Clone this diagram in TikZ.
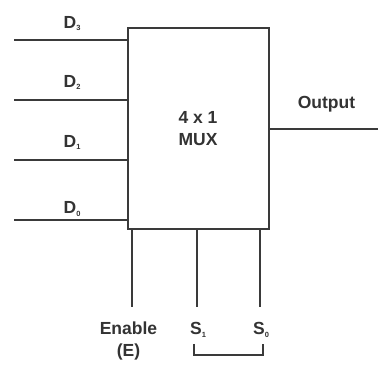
\documentclass[tikz,border=0pt]{standalone}
\usepackage{fontspec}
\setmainfont{Liberation Sans}
\definecolor{ink}{HTML}{3A3A3A}
\definecolor{txt}{HTML}{333333}
\newcommand{\sbs}[1]{\raisebox{-2.5pt}{\fontsize{7.5}{7.5}\selectfont #1}}
\begin{document}
\begin{tikzpicture}[x=1pt,y=-1pt,
  wire/.style={draw=ink,line width=2pt},
  lbl/.style={text=txt,font=\fontsize{17.5}{22}\selectfont\bfseries,inner sep=0pt},
  muxbox/.style={draw=ink,line width=2pt,minimum width=141pt,minimum height=201pt,inner sep=0pt}]
\useasboundingbox (0,0) rectangle (378,366);
\node[muxbox] (mux) at (198.5,128.5) {};
\node[lbl,align=center] (title) at (198,129) {4 x 1\\MUX};
% inputs
\coordinate (in3) at (14,40);
\coordinate (in2) at (14,100);
\coordinate (in1) at (14,160);
\coordinate (in0) at (14,220);
\draw[wire] (in3) -- (in3 -| mux.west);
\draw[wire] (in2) -- (in2 -| mux.west);
\draw[wire] (in1) -- (in1 -| mux.west);
\draw[wire] (in0) -- (in0 -| mux.west);
\node[lbl,anchor=base west] (l3) at (63.5,28.5) {D\sbs{3}};
\node[lbl,anchor=base west] (l2) at (63.5,87.5) {D\sbs{2}};
\node[lbl,anchor=base west] (l1) at (63.5,147.5) {D\sbs{1}};
\node[lbl,anchor=base west] (l0) at (63.5,214) {D\sbs{0}};
% output
\coordinate (out) at (378,129);
\draw[wire] (out -| mux.east) -- (out);
\node[lbl,anchor=base] (lout) at (326.5,108.5) {Output};
% bottom
\coordinate (en) at (132,307);
\coordinate (s1) at (197,307);
\coordinate (s0) at (259.5,307);
\draw[wire] (en |- mux.south) -- (en);
\draw[wire] (s1 |- mux.south) -- (s1);
\draw[wire] (s0 |- mux.south) -- (s0);
\node[lbl,anchor=base] (len) at (128.5,334.5) {Enable};
\node[lbl,anchor=base] (lenb) at (128.5,356.5) {(E)};
\node[lbl,anchor=base west] (ls1) at (190,334.5) {S\sbs{1}};
\node[lbl,anchor=base west] (ls0) at (253,334.5) {S\sbs{0}};
\coordinate (bl) at (194,344);
\coordinate (br) at (263,344);
\draw[draw=ink,line width=1.4pt] (bl) -- ++(0,11) -| (br);
\end{tikzpicture}
\end{document}
